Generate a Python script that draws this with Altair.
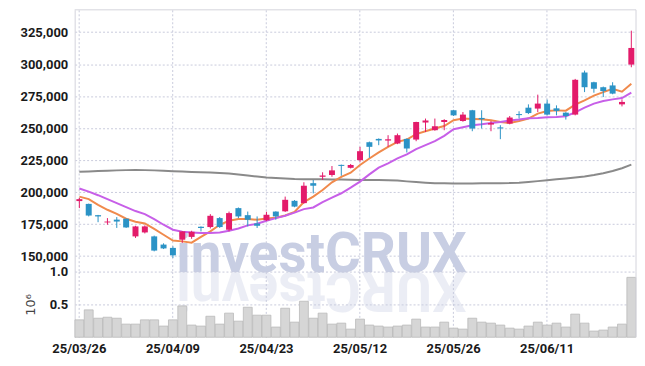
import altair as alt
import pandas as pd

dates = ["25/03/26", "25/03/27", "25/03/28", "25/03/31",
         "25/04/01", "25/04/02", "25/04/03", "25/04/04", "25/04/07", "25/04/08",
         "25/04/09", "25/04/10", "25/04/11", "25/04/14", "25/04/15", "25/04/16",
         "25/04/17", "25/04/18", "25/04/21", "25/04/22", "25/04/23", "25/04/24",
         "25/04/25", "25/04/28", "25/04/29", "25/04/30",
         "25/05/02", "25/05/07", "25/05/08", "25/05/09", "25/05/12", "25/05/13",
         "25/05/14", "25/05/15", "25/05/16", "25/05/19", "25/05/20", "25/05/21",
         "25/05/22", "25/05/23", "25/05/26", "25/05/27", "25/05/28", "25/05/29",
         "25/05/30",
         "25/06/02", "25/06/04", "25/06/05", "25/06/09", "25/06/10", "25/06/11",
         "25/06/12", "25/06/13", "25/06/16", "25/06/17", "25/06/18", "25/06/19",
         "25/06/20", "25/06/23", "25/06/24"]

opens = [193.0, 190.8, 182.0, 176.3, 178.5, 179.2, 165.4, 168.5, 165.4, 159.0,
         156.4, 162.8, 165.0, 173.0, 172.7, 179.7, 170.6, 187.5, 182.0, 175.5,
         178.0, 184.8, 185.0, 193.2, 191.4, 207.0, 212.0, 213.4, 221.3, 219.0,
         225.0, 239.0, 241.6, 240.3, 238.0, 241.6, 241.1, 254.4, 248.4, 254.8,
         264.0, 255.6, 264.0, 258.0, 252.8, 250.6, 253.6, 261.0, 266.0, 265.3,
         269.2, 265.5, 262.1, 260.6, 293.5, 285.9, 282.0, 283.4, 268.6, 299.7]
highs = [195.5, 191.0, 182.2, 179.7, 180.5, 179.5, 173.7, 174.0, 166.0, 160.0,
         157.6, 169.5, 169.8, 173.2, 182.8, 180.5, 184.8, 188.0, 184.8, 181.0,
         184.6, 185.0, 196.5, 193.8, 207.7, 209.5, 215.5, 220.4, 221.5, 222.0,
         235.4, 239.5, 242.0, 244.5, 245.8, 242.0, 255.0, 257.5, 257.5, 257.0,
         264.3, 262.6, 264.3, 264.0, 255.6, 252.3, 259.5, 263.2, 268.6, 276.2,
         272.3, 267.8, 262.5, 288.5, 295.0, 286.3, 282.5, 285.9, 272.5, 326.2]
lows = [187.5, 181.0, 176.5, 174.5, 172.0, 172.0, 164.2, 167.7, 153.7, 155.5,
        148.6, 160.3, 163.5, 169.3, 171.6, 172.0, 169.3, 179.7, 173.2, 172.0,
        177.5, 178.4, 184.5, 188.2, 191.0, 199.0, 209.5, 212.0, 212.8, 218.5,
        223.7, 226.8, 236.7, 235.4, 237.5, 231.0, 239.8, 247.0, 248.0, 248.4,
        259.5, 255.0, 247.6, 249.7, 247.6, 241.4, 253.0, 257.5, 261.0, 262.6,
        260.0, 260.0, 256.7, 260.0, 278.2, 277.7, 274.3, 276.5, 267.0, 297.6]
closes = [194.5, 181.7, 181.0, 177.0, 177.0, 172.4, 173.2, 173.2, 154.3, 156.0,
          150.6, 169.3, 169.0, 172.0, 181.5, 172.7, 183.6, 181.0, 178.4, 173.7,
          182.3, 181.0, 194.0, 188.7, 205.0, 205.0, 213.0, 217.0, 220.5, 221.2,
          232.0, 235.4, 240.4, 241.3, 244.5, 234.1, 254.8, 256.0, 251.5, 256.4,
          260.0, 260.6, 249.7, 257.0, 254.0, 249.8, 258.3, 260.2, 261.8, 269.2,
          260.6, 263.5, 259.5, 287.8, 282.0, 280.8, 279.0, 277.0, 270.5, 312.7]
volumes = [0.265, 0.417, 0.29, 0.305, 0.29, 0.20, 0.20, 0.265, 0.265, 0.17,
           0.265, 0.477, 0.185, 0.17, 0.32, 0.20, 0.367, 0.245, 0.457, 0.336,
           0.336, 0.155, 0.442, 0.23, 0.548, 0.29, 0.367, 0.20, 0.215, 0.124,
           0.276, 0.185, 0.17, 0.155, 0.17, 0.185, 0.276, 0.155, 0.155, 0.23,
           0.139, 0.124, 0.29, 0.23, 0.215, 0.185, 0.139, 0.124, 0.17, 0.23,
           0.185, 0.215, 0.155, 0.352, 0.215, 0.094, 0.109, 0.155, 0.20, 0.912]
ma5 = [196.5, 194.5, 190.0, 186.2, 183.0, 179.2, 176.8, 175.5, 171.2, 166.7,
       162.1, 161.5, 160.5, 165.0, 169.3, 174.5, 177.6, 178.9, 178.9, 178.4,
       179.4, 180.0, 181.7, 184.6, 192.2, 196.5, 201.7, 207.7, 212.0, 215.2,
       221.2, 226.3, 231.0, 235.4, 239.3, 241.1, 245.3, 247.6, 249.7, 251.7,
       256.2, 257.5, 257.2, 256.9, 256.2, 254.8, 254.0, 255.6, 257.5, 261.4,
       263.4, 263.9, 263.7, 268.4, 271.7, 275.4, 278.2, 280.8, 278.5, 284.7]
ma20 = [202.8, 200.4, 197.6, 194.5, 191.4, 188.3, 185.2, 182.8, 178.9, 174.5,
        170.6, 169.1, 168.5, 168.0, 168.0, 168.5, 169.8, 171.6, 174.0, 175.3,
        177.6, 179.7, 181.5, 184.0, 186.7, 188.0, 192.2, 195.7, 199.1, 203.5,
        208.2, 213.9, 219.1, 222.5, 226.4, 229.5, 233.6, 236.7, 239.8, 244.0,
        249.2, 250.7, 252.3, 253.1, 254.1, 254.8, 255.9, 256.7, 257.7, 258.0,
        258.5, 258.8, 259.3, 262.4, 266.0, 269.2, 271.2, 272.5, 273.5, 277.7]
ma120 = [216.0, 216.2, 216.5, 216.8, 217.0, 217.2, 217.3, 217.2, 217.0, 216.7,
         216.4, 216.1, 215.8, 215.6, 215.4, 215.0, 214.5, 213.8, 213.0, 212.2,
         211.5, 211.0, 210.6, 210.2, 210.0, 210.0, 210.0, 209.9, 209.8, 209.6,
         209.5, 209.5, 209.5, 209.3, 209.0, 208.4, 207.9, 207.4, 207.0, 206.9,
         206.8, 206.8, 206.8, 206.9, 206.9, 207.0, 207.1, 207.4, 208.0, 208.6,
         209.3, 210.0, 210.7, 211.5, 212.3, 213.4, 214.8, 216.5, 218.7, 221.5]

label_dates = ["25/03/26", "25/04/09", "25/04/23", "25/05/12", "25/05/26", "25/06/11"]
price_ticks = [150000, 175000, 200000, 225000, 250000, 275000, 300000, 325000]

K = 1000
df = pd.DataFrame({
    "date": dates,
    "open": [v * K for v in opens],
    "high": [v * K for v in highs],
    "low": [v * K for v in lows],
    "close": [v * K for v in closes],
    "vol": volumes,
    "ma5": [v * K for v in ma5],
    "ma20": [v * K for v in ma20],
    "ma120": [v * K for v in ma120],
})
df["dir"] = ["up" if c >= o else "down" for o, c in zip(df["open"], df["close"])]

W = 564
H1 = 263
H2 = 66
FONT = "Roboto"
GRID = "#c9cbdc"
BORDER = "#d4d4dc"
RED = "#e31b6a"
BLUE = "#2b93c6"

xscale = alt.Scale(domain=dates, paddingInner=0, paddingOuter=0)

x_price = alt.X("date:O", scale=xscale, title=None,
                axis=alt.Axis(values=label_dates, labels=False, ticks=False, domain=False,
                              grid=True, bandPosition=0.5, gridDash=[2, 2],
                              gridColor=GRID))
yscale = alt.Scale(domain=[137900, 342500], nice=False, zero=False)
y_axis = alt.Axis(values=price_ticks, format=",d", ticks=False, grid=True,
                  gridDash=[2, 2], gridColor=GRID, domain=True, domainColor=BORDER,
                  labelPadding=7)
color = alt.Color("dir:N", scale=alt.Scale(domain=["up", "down"], range=[RED, BLUE]),
                  legend=None)

base = alt.Chart(df)

wm = alt.Chart(pd.DataFrame({"t": ["investCRUX"]})).mark_text(
    font="Roboto", fontWeight="bold", fontSize=55, color="#c8cee3",
    align="center", baseline="alphabetic"
).encode(text="t:N", x=alt.value(248), y=alt.value(H1))

grey = base.mark_line(color="#8a8a8a", strokeWidth=2).encode(
    x=x_price, y=alt.Y("ma120:Q", scale=yscale, axis=y_axis, title=None))
wick = base.mark_rule(strokeWidth=1).encode(
    x=x_price, y=alt.Y("low:Q", scale=yscale, axis=y_axis, title=None), y2="high:Q",
    color=color)
body = base.mark_bar(size=6).encode(
    x=x_price, y=alt.Y("open:Q", scale=yscale, axis=y_axis, title=None), y2="close:Q",
    color=color)
orange = base.mark_line(color="#f08a4c", strokeWidth=2).encode(
    x=x_price, y=alt.Y("ma5:Q", scale=yscale, axis=y_axis, title=None))
purple = base.mark_line(color="#c75fe8", strokeWidth=2).encode(
    x=x_price, y=alt.Y("ma20:Q", scale=yscale, axis=y_axis, title=None))
top_rule = alt.Chart(pd.DataFrame({"a": [0]})).mark_rule(color=BORDER, strokeWidth=1).encode(
    x=alt.value(0), x2=alt.value(W), y=alt.value(0))
right_rule = alt.Chart(pd.DataFrame({"a": [0]})).mark_rule(color=BORDER, strokeWidth=1).encode(
    x=alt.value(W), y=alt.value(0), y2=alt.value(H1))

price = alt.layer(wm, grey, orange, purple, wick, body, top_rule, right_rule).properties(
    width=W, height=H1)

x_vol = alt.X("date:O", scale=xscale, title=None,
              axis=alt.Axis(values=label_dates, labelAngle=0, ticks=False, domain=False,
                            grid=True, bandPosition=0.5, gridDash=[2, 2], gridColor=GRID,
                            labelPadding=5))
wm2 = alt.Chart(pd.DataFrame({"t": ["XURCtsevni"]})).mark_text(
    font="Roboto", fontWeight="bold", fontSize=55, color="#c8cee3", opacity=0.35,
    align="center", baseline="alphabetic", angle=180
).encode(text="t:N", x=alt.value(248), y=alt.value(0))
vbars = base.mark_bar(color="#d6d6d6", stroke="#b9b9b9", strokeWidth=0.8,
                      width=alt.RelativeBandSize(0.95)).encode(
    x=x_vol,
    y=alt.Y("vol:Q", scale=alt.Scale(domain=[0, 1.0], nice=False), title="10⁶",
            axis=alt.Axis(values=[0.5, 1.0], format=".1f", ticks=False, grid=True,
                          gridDash=[2, 2], gridColor=GRID, domain=True, domainColor=BORDER,
                          labelPadding=7, titlePadding=12, titleFont="DejaVu Sans",
                          titleFontWeight="normal", titleFontSize=13, titleColor="#444")))
right_rule2 = alt.Chart(pd.DataFrame({"a": [0]})).mark_rule(color=BORDER, strokeWidth=1).encode(
    x=alt.value(W), y=alt.value(0), y2=alt.value(H2))
volume = alt.layer(wm2, vbars, right_rule2).properties(width=W, height=H2)

chart = alt.vconcat(price, volume, spacing=0, bounds="flush").properties(
    padding={"top": 0, "left": 12, "right": 0, "bottom": 0}
).configure_view(stroke=None).configure_axis(
    labelFont=FONT, labelFontSize=13, labelColor="#1a1a1a", labelFontWeight="bold"
)

chart.save("out.html", embed_options={"renderer": "svg", "actions": False})
